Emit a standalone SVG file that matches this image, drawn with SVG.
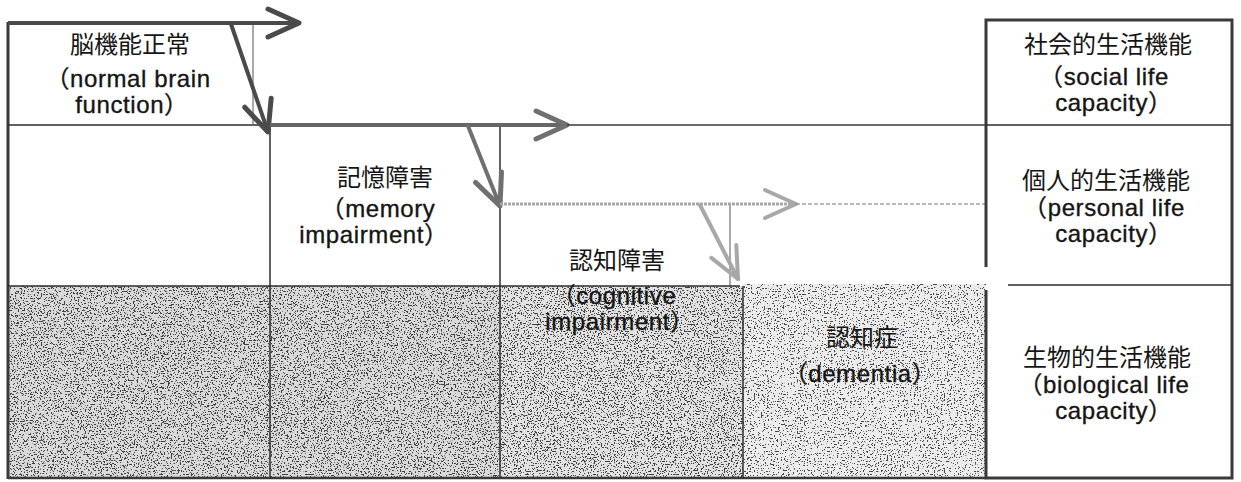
<svg xmlns="http://www.w3.org/2000/svg" width="1241" height="482" viewBox="0 0 1241 482">
<style>
.lat{font-family:"Liberation Sans","Noto Sans CJK JP",sans-serif;font-size:24px;letter-spacing:0.6px;fill:#151515;stroke:#151515;stroke-width:0.35;text-anchor:middle}
.cjk{font-family:"Noto Sans CJK JP","Noto Sans CJK SC",sans-serif;font-size:24px;fill:#151515;text-anchor:middle}
.thin{fill:none;stroke:#2e2e2e;stroke-width:1.5}
.hair{fill:none;stroke:#555;stroke-width:1}
.frame{fill:none;stroke:#3a3a3a;stroke-width:3}
</style>
<defs>
<filter id="stDark" x="0" y="0" width="1" height="1" color-interpolation-filters="sRGB">
<feTurbulence type="fractalNoise" baseFrequency="0.7" numOctaves="2" seed="7"/>
<feColorMatrix type="matrix" values="0 0 0 0 0.25  0 0 0 0 0.25  0 0 0 0 0.25  -30 0 0 0 12.6"/>
</filter>
<filter id="stLight" x="0" y="0" width="1" height="1" color-interpolation-filters="sRGB">
<feTurbulence type="fractalNoise" baseFrequency="0.7" numOctaves="2" seed="11"/>
<feColorMatrix type="matrix" values="0 0 0 0 0.28  0 0 0 0 0.28  0 0 0 0 0.28  -30 0 0 0 11.5"/>
</filter>
<marker id="mDark" markerUnits="userSpaceOnUse" markerWidth="50" markerHeight="50" viewBox="-40 -25 50 50" refX="0" refY="0" orient="auto" overflow="visible">
<path d="M-31,-14 L0,0 L-31,14" fill="none" stroke="#4a4a4a" stroke-width="5" stroke-linecap="round" stroke-linejoin="round"/>
</marker>
<marker id="mMid" markerUnits="userSpaceOnUse" markerWidth="50" markerHeight="50" viewBox="-40 -25 50 50" refX="0" refY="0" orient="auto" overflow="visible">
<path d="M-31,-14 L0,0 L-31,14" fill="none" stroke="#707070" stroke-width="5" stroke-linecap="round" stroke-linejoin="round"/>
</marker>
<marker id="mLight" markerUnits="userSpaceOnUse" markerWidth="50" markerHeight="50" viewBox="-40 -25 50 50" refX="0" refY="0" orient="auto" overflow="visible">
<path d="M-31,-14 L0,0 L-31,14" fill="none" stroke="#a8a8a8" stroke-width="4" stroke-linecap="round" stroke-linejoin="round"/>
</marker>
</defs>
<rect x="0" y="0" width="1241" height="482" fill="#fff"/>

<g id="shading">
<rect x="8" y="286" width="492" height="192" fill="#dadada"/>
<rect x="500" y="286" width="243" height="192" fill="#e2e2e2"/>
<rect x="743" y="284" width="243" height="194" fill="#ececec"/>
<rect x="8" y="286" width="735" height="192" fill="#000" filter="url(#stDark)"/>
<rect x="743" y="284" width="243" height="194" fill="#000" filter="url(#stLight)"/>
</g>

<g id="grid">
<line class="frame" x1="8" y1="22" x2="8" y2="479"/>
<line class="frame" x1="8" y1="478" x2="986" y2="478" style="stroke-width:2.5"/>
<line class="thin" x1="8" y1="125" x2="270" y2="125"/>
<line class="hair" x1="253" y1="23" x2="253" y2="125"/>
<line class="thin" x1="270" y1="125" x2="270" y2="478"/>
<line class="thin" x1="500" y1="125" x2="500" y2="478"/>
<line class="hair" x1="730" y1="204" x2="730" y2="286"/>
<line class="thin" x1="8" y1="286" x2="740" y2="286"/>
<line class="thin" x1="743" y1="286" x2="743" y2="478"/>
</g>

<g id="connectors">
<line x1="8" y1="23" x2="299" y2="23" stroke="#4a4a4a" stroke-width="4" marker-end="url(#mDark)"/>
<line x1="231" y1="24" x2="268" y2="132" stroke="#4a4a4a" stroke-width="4" stroke-linecap="round" marker-end="url(#mDark)"/>
<line x1="270" y1="125" x2="567" y2="125" stroke="#666" stroke-width="4" marker-end="url(#mMid)"/>
<line x1="567" y1="125" x2="986" y2="125" stroke="#3a3a3a" stroke-width="1.3"/>
<line x1="468" y1="126" x2="500" y2="206" stroke="#707070" stroke-width="4" stroke-linecap="round" marker-end="url(#mMid)"/>
<line x1="500" y1="204" x2="796" y2="204" stroke="#a8a8a8" stroke-width="3" stroke-dasharray="3 1" marker-end="url(#mLight)"/>
<line x1="796" y1="204" x2="986" y2="204" stroke="#777" stroke-width="1" stroke-dasharray="4 2"/>
<line x1="700" y1="205" x2="738" y2="279" stroke="#a8a8a8" stroke-width="4" stroke-linecap="round" marker-end="url(#mLight)"/>
</g>

<g id="lifebox">
<path class="frame" d="M986,267 L986,20 L1232,20 L1232,478 L986,478 L986,290"/>
<line class="thin" x1="986" y1="125" x2="1232" y2="125"/>
<line class="thin" x1="1008" y1="285" x2="1232" y2="285"/>
</g>

<g id="normal">
<text class="cjk" x="130" y="53">脳機能正常</text>
<text class="lat" x="128" y="87">（normal brain</text>
<text class="lat" x="132" y="113">function）</text>
</g>
<g id="memory">
<text class="cjk" x="385" y="186">記憶障害</text>
<text class="lat" x="378" y="217">（memory</text>
<text class="lat" x="374" y="243">impairment）</text>
</g>
<g id="cognitive">
<text class="cjk" x="617" y="269">認知障害</text>
<text class="lat" x="614" y="304">（cognitive</text>
<text class="lat" x="620" y="330">impairment）</text>
</g>
<g id="dementia">
<text class="cjk" x="862" y="346">認知症</text>
<text class="lat" x="860" y="382">（dementia）</text>
</g>
<g id="social">
<text class="cjk" x="1108" y="53">社会的生活機能</text>
<text class="lat" x="1104" y="85">（social life</text>
<text class="lat" x="1114" y="111">capacity）</text>
</g>
<g id="personal">
<text class="cjk" x="1106" y="189">個人的生活機能</text>
<text class="lat" x="1104" y="216">（personal life</text>
<text class="lat" x="1114" y="242">capacity）</text>
</g>
<g id="biological">
<text class="cjk" x="1107" y="366">生物的生活機能</text>
<text class="lat" x="1104" y="393">（biological life</text>
<text class="lat" x="1114" y="419">capacity）</text>
</g>
</svg>
